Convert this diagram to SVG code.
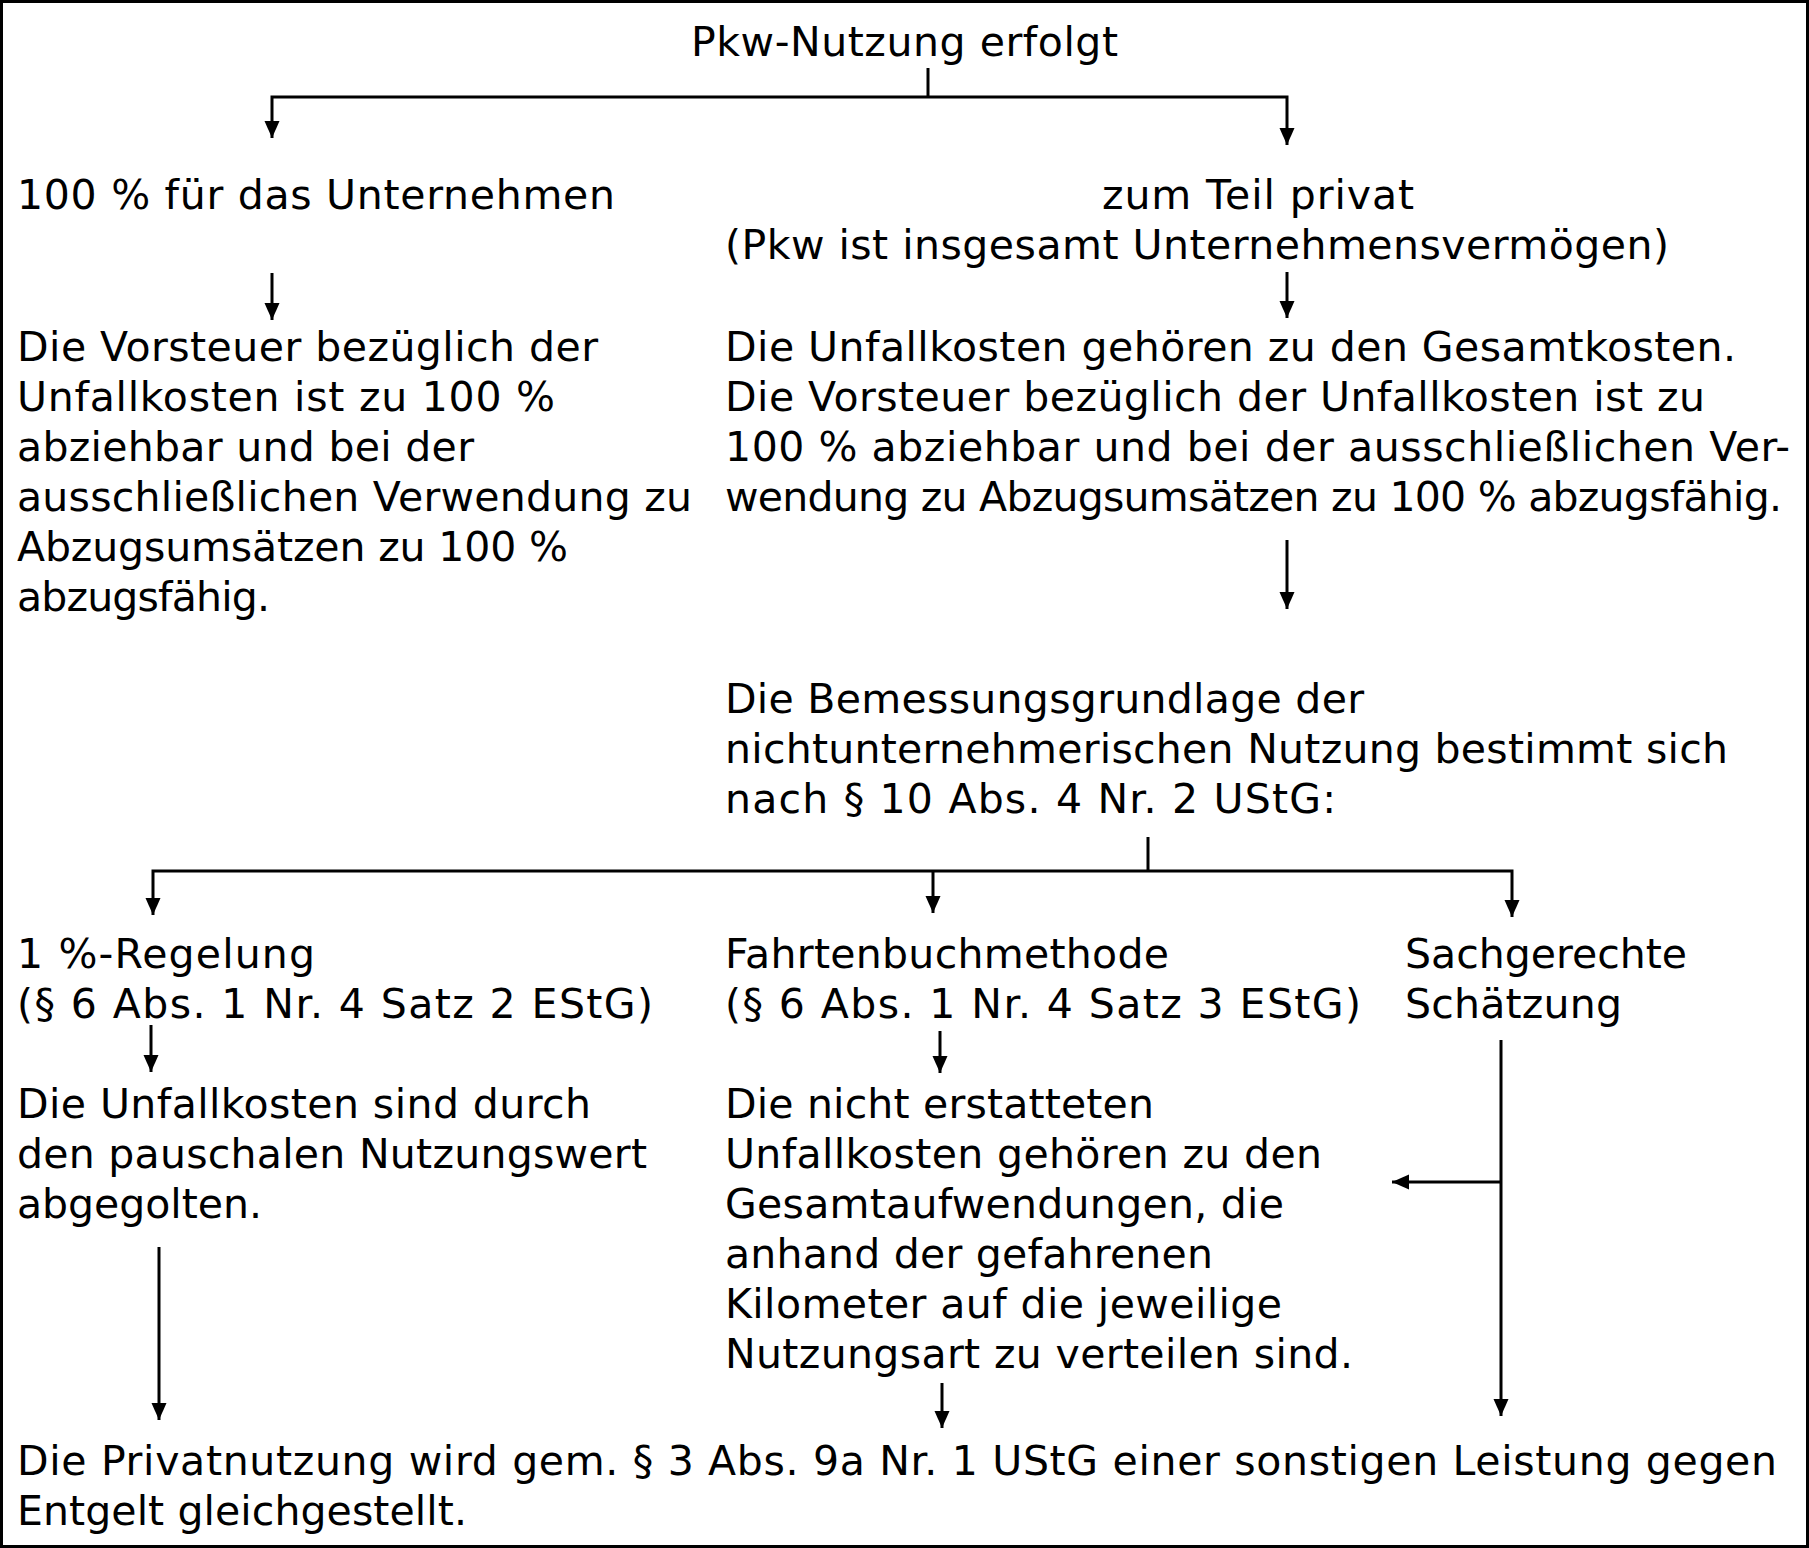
<svg xmlns="http://www.w3.org/2000/svg" width="1809" height="1548" viewBox="0 0 1809 1548">
<style>
text{font-family:"DejaVu Sans","Verdana",sans-serif;font-size:41px;fill:#000}
.c{fill:none;stroke:#000;stroke-width:3}
.a{marker-end:url(#ah)}
</style>
<defs>
<marker id="ah" markerUnits="userSpaceOnUse" markerWidth="18" markerHeight="16" refX="17" refY="7.5" orient="auto">
<path d="M0,0 L17,7.5 L0,15 z" fill="#000"/>
</marker>
</defs>
<rect x="1.5" y="1.5" width="1806" height="1545" fill="#fff" stroke="#000" stroke-width="3"/>
<g id="connectors">
<path class="c" d="M928,68 V97"/>
<path class="c a" d="M928,97 H272 V138"/>
<path class="c a" d="M928,97 H1287 V145"/>
<path class="c a" d="M272,273 V320"/>
<path class="c a" d="M1287,272 V318"/>
<path class="c a" d="M1287,540 V609"/>
<path class="c" d="M1148,837 V871"/>
<path class="c a" d="M1148,871 H153 V915"/>
<path class="c a" d="M1148,871 H1512 V917"/>
<path class="c a" d="M933,871 V913"/>
<path class="c a" d="M151,1025 V1072"/>
<path class="c a" d="M940,1031 V1073"/>
<path class="c a" d="M159,1247 V1420"/>
<path class="c a" d="M942,1383 V1428"/>
<path class="c a" d="M1501,1040 V1416"/>
<path class="c a" d="M1501,1182 H1392"/>
</g>
<g id="n-start"><text x="691" y="56" textLength="427">Pkw-Nutzung erfolgt</text></g>
<g id="n-100"><text x="17" y="209" textLength="598">100 % für das Unternehmen</text></g>
<g id="n-teil"><text x="1102" y="209" textLength="312">zum Teil privat</text><text x="725" y="259" textLength="944">(Pkw ist insgesamt Unternehmensvermögen)</text></g>
<g id="n-vorsteuer-left">
<text x="17" y="361" textLength="581">Die Vorsteuer bezüglich der</text>
<text x="17" y="411" textLength="538">Unfallkosten ist zu 100 %</text>
<text x="17" y="461" textLength="457">abziehbar und bei der</text>
<text x="17" y="511" textLength="675">ausschließlichen Verwendung zu</text>
<text x="17" y="561" textLength="551">Abzugsumsätzen zu 100 %</text>
<text x="17" y="611" textLength="253">abzugsfähig.</text>
</g>
<g id="n-vorsteuer-right">
<text x="725" y="361" textLength="1011">Die Unfallkosten gehören zu den Gesamtkosten.</text>
<text x="725" y="411" textLength="980">Die Vorsteuer bezüglich der Unfallkosten ist zu</text>
<text x="725" y="461" textLength="1065">100 % abziehbar und bei der ausschließlichen Ver-</text>
<text x="725" y="511" textLength="1057">wendung zu Abzugsumsätzen zu 100 % abzugsfähig.</text>
</g>
<g id="n-bemessung">
<text x="725" y="713" textLength="639">Die Bemessungsgrundlage der</text>
<text x="725" y="763" textLength="1003">nichtunternehmerischen Nutzung bestimmt sich</text>
<text x="725" y="813" textLength="611">nach § 10 Abs. 4 Nr. 2 UStG:</text>
</g>
<g id="n-1prozent"><text x="17" y="968" textLength="298">1 %-Regelung</text><text x="17" y="1018" textLength="636">(§ 6 Abs. 1 Nr. 4 Satz 2 EStG)</text></g>
<g id="n-fahrtenbuch"><text x="725" y="968" textLength="444">Fahrtenbuchmethode</text><text x="725" y="1018" textLength="636">(§ 6 Abs. 1 Nr. 4 Satz 3 EStG)</text></g>
<g id="n-schaetzung"><text x="1405" y="968" textLength="282">Sachgerechte</text><text x="1405" y="1018" textLength="217">Schätzung</text></g>
<g id="n-abgegolten">
<text x="17" y="1118" textLength="574">Die Unfallkosten sind durch</text>
<text x="17" y="1168" textLength="630">den pauschalen Nutzungswert</text>
<text x="17" y="1218" textLength="245">abgegolten.</text>
</g>
<g id="n-verteilen">
<text x="725" y="1118" textLength="429">Die nicht erstatteten</text>
<text x="725" y="1168" textLength="597">Unfallkosten gehören zu den</text>
<text x="725" y="1218" textLength="559">Gesamtaufwendungen, die</text>
<text x="725" y="1268" textLength="488">anhand der gefahrenen</text>
<text x="725" y="1318" textLength="557">Kilometer auf die jeweilige</text>
<text x="725" y="1368" textLength="628">Nutzungsart zu verteilen sind.</text>
</g>
<g id="n-privat">
<text x="17" y="1475" textLength="1760">Die Privatnutzung wird gem. § 3 Abs. 9a Nr. 1 UStG einer sonstigen Leistung gegen</text>
<text x="17" y="1525" textLength="450">Entgelt gleichgestellt.</text>
</g>
</svg>
